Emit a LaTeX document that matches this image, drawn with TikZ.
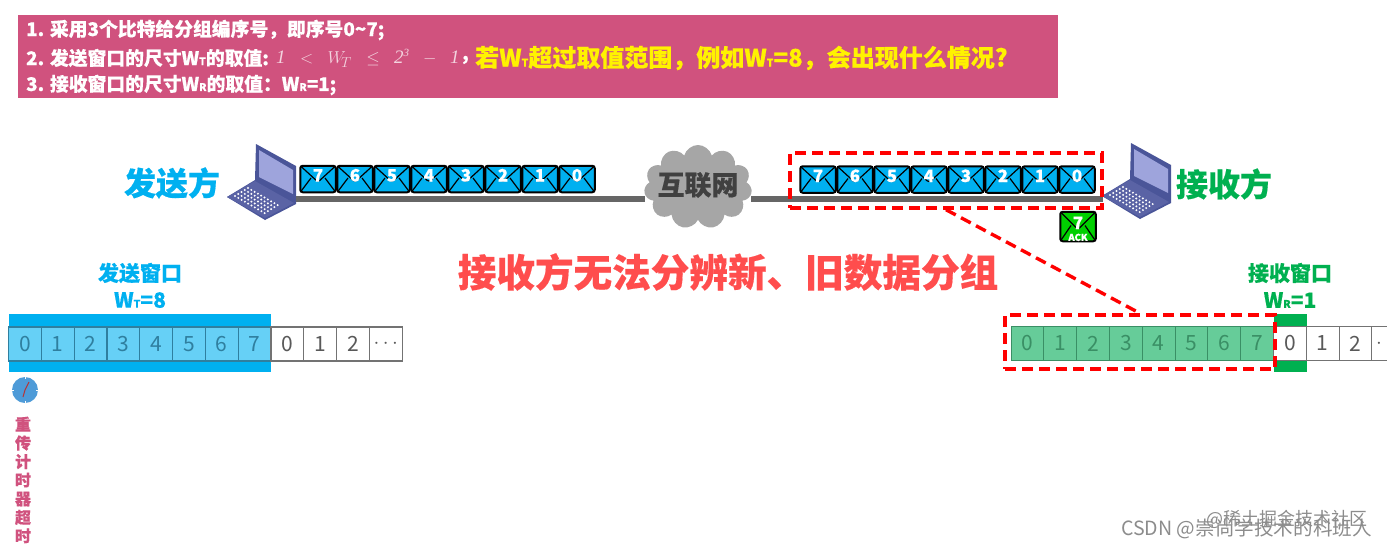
\documentclass[tikz,border=0pt]{standalone}
\usepackage{fontspec}
\usepackage{xcolor}
\usetikzlibrary{shapes.symbols}
\setmainfont{Noto Sans CJK SC}[BoldFeatures={FakeBold=0.4}]
\newfontfamily\SerifFace{Liberation Serif}

\definecolor{Rose}{HTML}{D0527E}
\definecolor{SkyBlue}{HTML}{00B0F0}
\definecolor{PaleSky}{HTML}{66D0F6}
\definecolor{DeepSky}{HTML}{2F7F9F}
\definecolor{LeafGreen}{HTML}{00B050}
\definecolor{PaleLeaf}{HTML}{66CC99}
\definecolor{DeepLeaf}{HTML}{3A8F65}
\definecolor{AckGreen}{HTML}{00D000}
\definecolor{NetGray}{HTML}{A6A6A6}
\definecolor{SoftRed}{HTML}{FF4D4D}
\definecolor{ClockBlue}{HTML}{4E9BD8}
\definecolor{LidNavy}{HTML}{4A5599}
\definecolor{LidGlass}{HTML}{9EA4DC}
\definecolor{DeckNavy}{HTML}{5A63A5}

\newcommand{\Fs}[1]{\fontsize{#1}{#1}\selectfont}
\newcommand{\Low}[1]{{\fontsize{10.5}{10.5}\selectfont #1}}
\newcommand{\Ital}[1]{\hbox{\SerifFace\itshape #1}}
\newcommand{\TinyItal}[1]{\hbox{\SerifFace\itshape\fontsize{11}{11}\selectfont #1}}
\newcommand{\WideComma}{\symbol{"FF0C}}
\newcommand{\WideColon}{\symbol{"FF1A}}

\tikzset{
    laptop/.pic={
        \fill[color=LidNavy] (28,0) -- (68,22) -- (68,60) -- (37,76) -- (-1,53) -- (27,36) -- cycle;
        \fill[color=LidGlass] (31,6) -- (65,26) -- (65,50) -- (31,33) -- cycle;
        \fill[color=DeckNavy] (-1,53) -- (27,37) -- (66,59) -- (37,74) -- cycle;
        \foreach \i in {0,...,9}
            \foreach \j in {0,...,4}
                \fill[white] ({20+\i*3.3-\j*3.25}, {44+\i*1.9+\j*2}) circle (1.1);
    }
}

\begin{document}
\begin{tikzpicture}[x=1pt, y=-1pt]
    \tikzstyle Note Line=[anchor=west, inner sep=0, text=white, font=\bfseries\Fs{18.8}]
    \tikzstyle Side Title=[inner sep=0, font=\bfseries\Fs{32}]
    \tikzstyle Window Title=[inner sep=0, font=\bfseries\Fs{21}]
    \tikzstyle Envelope Box=[draw=black, line width=2, rounded corners=2.5, fill=SkyBlue, text=white,
        minimum width=35.5, minimum height=26.5, inner sep=0, text height=12, text depth=7, font=\bfseries\Fs{17},
        path picture={\draw[black, line width=1.2]
            (path picture bounding box.north west) -- ([yshift=-3pt]path picture bounding box.center)
            -- (path picture bounding box.north east)
            (path picture bounding box.south west) -- ([xshift=-7pt, yshift=1pt]path picture bounding box.center)
            (path picture bounding box.south east) -- ([xshift=7pt, yshift=1pt]path picture bounding box.center);}]
    \tikzstyle Link Line=[line width=5.5, color=black!60]
    \tikzstyle Red Dash=[line width=3.4, color=red, dash pattern=on 11pt off 6pt]
    \tikzstyle Cell Box=[draw=black!55, fill=white, line width=1.1, minimum width=32.8, minimum height=34, inner sep=0, text=black!65, font=\Fs{21}]
    \tikzstyle Sky Cell=[Cell Box, fill=PaleSky, text=DeepSky, draw=DeepSky]
    \tikzstyle Leaf Cell=[Cell Box, fill=PaleLeaf, text=DeepLeaf, draw=DeepLeaf]
    \tikzstyle Mark Text=[inner sep=0, text=black!45, font=\Fs{18}]

    \useasboundingbox (0,0) rectangle (1387,547);

    % condition box
    \fill[color=Rose] (18,15) rectangle (1058,98);
    \node[Note Line] (noteA) at (26,30) {1. 采用3个比特给分组编序号\WideComma 即序号0\textasciitilde7;};
    \node[Note Line] (noteB) at (26,58) {2. 发送窗口的尺寸W\Low{T}的取值:};
    \node[Note Line, text=white!75!Rose, font=\Fs{19}] (range) at (276,58) {$\Ital{1} \;\;<\;\; W_{\!T} \;\;\leq\;\; \Ital{2}^{\TinyItal{3}} \;\;-\;\; \Ital{1}$};
    \node[Note Line] (comma) at (462,60) {,};
    \node[Note Line, text=yellow, font=\bfseries\Fs{24}] (question) at (475,58) {若W\Low{T}超过取值范围\WideComma 例如W\Low{T}=8\WideComma 会出现什么情况?};
    \node[Note Line] (noteC) at (26,85) {3. 接收窗口的尺寸W\Low{R}的取值\WideColon W\Low{R}=1;};

    % sender and receiver
    \pic at (228,144) {laptop};
    \pic at (1103,143) {laptop};
    \node[Side Title, text=SkyBlue] (senderName) at (172,183) {发送方};
    \node[Side Title, text=LeafGreen] (receiverName) at (1224,184) {接收方};

    \node[cloud, cloud puffs=11, aspect=1.3, fill=NetGray, minimum width=108, minimum height=84, inner sep=0] (net) at (698,187) {};
    \node[inner sep=0, text=black!75, font=\bfseries\Fs{27}] (netName) at (698,185) {互联网};
    \coordinate (senderPort) at (296,199);
    \coordinate (receiverPort) at (1103,199);
    \draw[Link Line] (senderPort) -- (net.west |- senderPort);
    \draw[Link Line] (net.east |- receiverPort) -- (receiverPort);

    \foreach \n [count=\i from 0] in {7,6,5,4,3,2,1,0} {
        \node[Envelope Box] (sent\n) at ({318+\i*37}, 179) {\n};
        \node[Envelope Box] (recv\n) at ({818+\i*37}, 179.5) {\n};
    }
    \node[Envelope Box, fill=AckGreen, minimum height=29.5] (ack) at (1078,226.5) {7};
    \node[inner sep=1, anchor=south, text=white, font=\bfseries\Fs{9.5}] (ackName) at (ack.south) {ACK};

    \node[Red Dash, draw, minimum width=312, minimum height=55, inner sep=0] (recvFrame) at (946,180.5) {};

    \node[inner sep=0, text=SoftRed, font=\bfseries\Fs{38.6}] (verdict) at (728,272) {接收方无法分辨新、旧数据分组};

    % sending window
    \node[Window Title, text=SkyBlue] (sendWin) at (140,273) {发送窗口};
    \node[Window Title, text=SkyBlue] (sendSize) at (140,300) {W\Low{T}=8};
    \fill[color=SkyBlue] (8.5,314) rectangle (271,372);
    \foreach \n [count=\i from 0] in {0,...,7}
        \node[Sky Cell] (snd\i) at ({25+\i*32.8}, 344) {\n};
    \foreach \n [count=\i from 8] in {0,1,2,$\cdots$}
        \node[Cell Box] (snd\i) at ({25+\i*32.8}, 344) {\n};

    % timer
    \node[circle, fill=ClockBlue, minimum size=26, inner sep=0] (clock) at (25,390) {};
    \foreach \a in {0,90,180,270}
        \draw[white, line width=0.6] (clock.\a) -- ++({-2*cos(\a)}, {2*sin(\a)});
    \coordinate (hourTip) at (29,382);
    \coordinate (minuteTip) at (23,397);
    \draw[color=red!65!black!80!white, line width=1] (hourTip) -- (clock.center) -- (minuteTip);
    \node[inner sep=0, align=center, text=Rose, font=\bfseries\Fs{16}, text width=18] (timeout) at (23,480) {重\\[2.6pt]传\\[2.6pt]计\\[2.6pt]时\\[2.6pt]器\\[2.6pt]超\\[2.6pt]时};

    % receiving window
    \node[Window Title, text=LeafGreen] (recvWin) at (1290,273) {接收窗口};
    \node[Window Title, text=LeafGreen] (recvSize) at (1290,300) {W\Low{R}=1};
    \fill[color=LeafGreen] (1274,314) rectangle (1307,372);
    \foreach \n [count=\i from 0] in {0,...,7}
        \node[Leaf Cell] (rcv\i) at ({1027.5+\i*32.8}, 343.5) {\n};
    \foreach \n [count=\i from 8] in {0,1,2}
        \node[Cell Box] (rcv\i) at ({1027.5+\i*32.8}, 343.5) {\n};
    \node[Cell Box] (rcv11) at ({1027.5+11*32.8}, 343.5) {$\cdots$};

    \node[Red Dash, draw, minimum width=270, minimum height=54, inner sep=0] (lowFrame) at (1140,342) {};
    \draw[Red Dash] (recvFrame.south) -- (lowFrame.north);

    % marks
    \node[Mark Text, anchor=east] (markA) at (1368,519) {@稀土掘金技术社区};
    \node[Mark Text, anchor=east, font=\Fs{19.6}] (markB) at (1372,529) {CSDN @崇尚学技术的科班人};
\end{tikzpicture}
\end{document}
